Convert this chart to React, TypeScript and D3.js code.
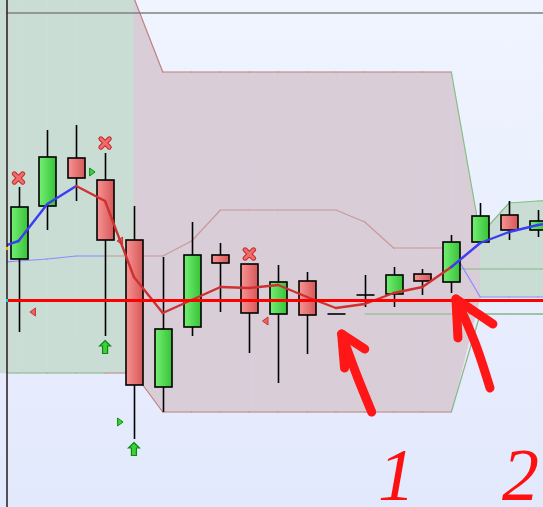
import * as d3 from 'd3';
import React, { useEffect, useRef } from 'react';

// chart values are in "points", one entry per bar
const opens  = [241, 294, 342, 320, 260, 113, 173, 245, 236, 186, 219, 186, 205, 206, 226, 218, 258, 285, 270];
const highs  = [313, 370, 375, 347, 294, 243, 278, 257, 236, 235, 228, 186, 225, 233, 231, 265, 297, 299, 290];
const lows   = [168, 270, 299, 164,  61,  88, 164, 188, 147, 117, 146, 186, 193, 193, 205, 207, 258, 260, 263];
const closes = [293, 343, 322, 260, 115, 171, 245, 237, 187, 218, 185, 186, 205, 225, 219, 258, 284, 270, 279];

// indicator lines, bar -1 .. 19
const lineIndex = d3.range(-1, 20);
const tenkan = [249, 259, 296, 314, 299, 223, 187, 200, 213, 212, 215, 203, 192, 196, 207, 213, 233, 257, 268, 275, 279];
const kijun  = [237, 239, 241, 244, 244, 244, 244, 259, 290, 290, 290, 290, 290, 278, 252, 252, 252, 203, 203, 203, 203];
const spanA  = [560, 560, 560, 560, 560, 502, 428, 428, 428, 428, 428, 428, 428, 428, 428, 428, 428, 265, 297, 299, 300];
const spanB  = [127, 127, 127, 127, 127, 127, 88, 88, 88, 88, 88, 88, 88, 88, 88, 88, 88, 186, 186, 186, 186];
// lower edge of the shaded cloud
const cloudBase = [127, 127, 127, 127, 127, 127, 88, 88, 88, 88, 88, 88, 88, 88, 88, 88, 88, 203, 203, 203, 203];
// trend flags per point (true = bullish)
const tenkanUp = [true, true, true, true, false, false, false, false, false, false, false, false, false, false, false, false, false, true, true, true, true];
const kijunUp  = [true, true, true, true, true, false, false, false, false, false, false, false, false, false, false, false, false, true, true, true, true];
const cloudUp  = [true, true, true, true, true, false, false, false, false, false, false, false, false, false, false, false, false, true, true, true, true];

// flat green levels: start bar, value
const levelStarts = [12, 15];
const levelValues = [186, 231];

const redLevel = 199.5;
const greyLevel = 487;

// signal markers (bar, value)
const crossBars = [0, 3, 8];
const crossValues = [322, 357, 246];
const upArrowBars = [3, 4];
const upArrowValues = [153, 51];
const rightTriBars = [2.55, 3.52];
const rightTriValues = [328, 78];
const leftTriBars = [0.5, 3.52, 8.56];
const leftTriValues = [188, 259, 179];

// hand drawn annotations (bar, value)
const arrowStrokes = [
  [[11.2, 166], [11.3, 132]],
  [[11.2, 166], [12.0, 151]],
  [[11.27, 160], [11.72, 125], [12.24, 88]],
  [[15.16, 201], [15.23, 162]],
  [[15.16, 201], [16.44, 176]],
  [[15.26, 195], [15.85, 155], [16.34, 112]],
];
const noteLabels = ['1', '2'];
const noteBars = [13.1, 17.4];
const noteValue = 0;

const W = 543, H = 507, LEFT = 7;

function plot(node: SVGSVGElement) {
  const svg = d3.select(node);
  svg.selectAll('*').remove();

  const x = d3.scaleLinear().domain([0, 18]).range([18.5, 537.9]);
  const y = d3.scaleLinear().domain([0, 500]).range([500, 0]);

  const defs = svg.append('defs');
  const bg = defs.append('linearGradient').attr('id', 'bg').attr('x1', 0).attr('x2', 0).attr('y1', 0).attr('y2', 1);
  bg.append('stop').attr('offset', 0).attr('stop-color', '#f0f4ff');
  bg.append('stop').attr('offset', 1).attr('stop-color', '#e2e9fc');
  const gUp = defs.append('linearGradient').attr('id', 'up');
  gUp.append('stop').attr('offset', 0).attr('stop-color', '#74ef74');
  gUp.append('stop').attr('offset', 1).attr('stop-color', '#38c238');
  const gDn = defs.append('linearGradient').attr('id', 'dn');
  gDn.append('stop').attr('offset', 0).attr('stop-color', '#f99393');
  gDn.append('stop').attr('offset', 1).attr('stop-color', '#d55858');
  defs.append('clipPath').attr('id', 'plot').append('rect')
    .attr('x', LEFT).attr('y', 0).attr('width', W - LEFT).attr('height', H);
  defs.append('filter').attr('id', 'soft').append('feGaussianBlur').attr('stdDeviation', 0.7);

  svg.append('rect').attr('width', W).attr('height', H).attr('fill', 'url(#bg)');

  // cloud, one quad per bar segment
  const cloud = svg.append('g');
  for (let k = 0; k < lineIndex.length - 1; k++) {
    const x0 = x(lineIndex[k]), x1 = x(lineIndex[k + 1]);
    cloud.append('path')
      .attr('d', `M${x0},${y(spanA[k])}L${x1},${y(spanA[k + 1])}L${x1},${y(cloudBase[k + 1])}L${x0},${y(cloudBase[k])}Z`)
      .attr('fill', cloudUp[k] ? '#c9ddd5' : '#d9cdd7')
      .attr('stroke', cloudUp[k] ? '#c9ddd5' : '#d9cdd7')
      .attr('stroke-width', 0.5);
  }

  const lines = svg.append('g').attr('clip-path', 'url(#plot)');
  const segLines = (vals: number[], flags: boolean[], upColor: string, dnColor: string, width: number) => {
    for (let k = 0; k < vals.length - 1; k++) {
      lines.append('line')
        .attr('x1', x(lineIndex[k])).attr('y1', y(vals[k]))
        .attr('x2', x(lineIndex[k + 1])).attr('y2', y(vals[k + 1]))
        .attr('stroke', flags[k + 1] ? upColor : dnColor)
        .attr('stroke-width', width)
        .attr('stroke-linecap', 'round');
    }
  };
  segLines(spanA, cloudUp, '#86c086', '#c08282', 1.2);
  segLines(spanB, cloudUp, '#86b886', '#c08282', 1.2);
  levelStarts.forEach((s, i) => {
    lines.append('line')
      .attr('x1', x(s)).attr('x2', W).attr('y1', y(levelValues[i])).attr('y2', y(levelValues[i]))
      .attr('stroke', '#86b886').attr('stroke-width', 1.2);
  });
  segLines(kijun, kijunUp, '#8c8cff', '#c89a9a', 1.2);

  // grey level
  svg.append('line').attr('x1', LEFT).attr('x2', W).attr('y1', y(greyLevel)).attr('y2', y(greyLevel))
    .attr('stroke', '#808080').attr('stroke-width', 1.5);

  // markers behind candles
  const mk = svg.append('g');
  leftTriBars.forEach((b, i) => {
    const cx = x(b), cy = y(leftTriValues[i]);
    mk.append('path').attr('d', `M${cx - 3},${cy}L${cx + 2.5},${cy - 4}L${cx + 2.5},${cy + 4}Z`)
      .attr('fill', '#f06262').attr('stroke', '#c83434').attr('stroke-width', 1);
  });
  rightTriBars.forEach((b, i) => {
    const cx = x(b), cy = y(rightTriValues[i]);
    mk.append('path').attr('d', `M${cx + 3},${cy}L${cx - 2.5},${cy - 4}L${cx - 2.5},${cy + 4}Z`)
      .attr('fill', '#3cd03c').attr('stroke', '#109010').attr('stroke-width', 1);
  });

  // candles
  const cg = svg.append('g');
  opens.forEach((o, i) => {
    const c = closes[i];
    const cx = Math.round(x(i)) + 0.5;
    if (highs[i] !== lows[i]) {
      cg.append('line').attr('x1', cx).attr('x2', cx).attr('y1', y(highs[i])).attr('y2', y(lows[i]))
        .attr('stroke', '#000').attr('stroke-width', 1.6);
    }
    if (o === c) {
      cg.append('line').attr('x1', cx - 9).attr('x2', cx + 9).attr('y1', y(o)).attr('y2', y(o))
        .attr('stroke', '#000').attr('stroke-width', 1.6);
      return;
    }
    cg.append('rect')
      .attr('x', cx - 8.5).attr('width', 17)
      .attr('y', y(Math.max(o, c))).attr('height', Math.abs(y(o) - y(c)))
      .attr('fill', c > o ? 'url(#up)' : 'url(#dn)')
      .attr('stroke', '#000').attr('stroke-width', 1.6);
  });

  // tenkan on top of candles
  const tg = svg.append('g').attr('clip-path', 'url(#plot)');
  for (let k = 0; k < tenkan.length - 1; k++) {
    tg.append('line')
      .attr('x1', x(lineIndex[k])).attr('y1', y(tenkan[k]))
      .attr('x2', x(lineIndex[k + 1])).attr('y2', y(tenkan[k + 1]))
      .attr('stroke', tenkanUp[k + 1] ? '#3c3cf4' : '#d03030')
      .attr('stroke-width', 2.4)
      .attr('stroke-linecap', 'round');
  }

  // red level
  svg.append('line').attr('x1', LEFT).attr('x2', W).attr('y1', y(redLevel)).attr('y2', y(redLevel))
    .attr('stroke', '#ff0000').attr('stroke-width', 3.2);

  const top = svg.append('g');
  crossBars.forEach((b, i) => {
    const cx = x(b), cy = y(crossValues[i]), r = 4.2;
    [['#c02c2c', 5], ['#f26a6a', 3]].forEach(([col, w]) => {
      top.append('path').attr('d', `M${cx - r},${cy - r}L${cx + r},${cy + r}M${cx + r},${cy - r}L${cx - r},${cy + r}`)
        .attr('stroke', col as string).attr('stroke-width', w as number).attr('stroke-linecap', 'round');
    });
  });
  upArrowBars.forEach((b, i) => {
    const cx = x(b), cy = y(upArrowValues[i]);
    top.append('path')
      .attr('d', `M${cx},${cy - 6.5}L${cx + 5.5},${cy - 1}L${cx + 2.5},${cy - 1}L${cx + 2.5},${cy + 6.5}L${cx - 2.5},${cy + 6.5}L${cx - 2.5},${cy - 1}L${cx - 5.5},${cy - 1}Z`)
      .attr('fill', '#3cd03c').attr('stroke', '#0c8a0c').attr('stroke-width', 1.2);
  });

  // frame line
  svg.append('line').attr('x1', LEFT).attr('x2', LEFT).attr('y1', 0).attr('y2', H)
    .attr('stroke', '#2a1818').attr('stroke-width', 1.5);
  svg.append('rect').attr('x', LEFT - 1).attr('y', y(redLevel) - 1.5).attr('width', 2).attr('height', 3).attr('fill', '#00e0e0');
  svg.append('rect').attr('x', LEFT - 1).attr('y', y(tenkan[0]) - 4).attr('width', 2).attr('height', 3).attr('fill', '#e8c000');

  // hand drawn notes
  const notes = svg.append('g').attr('filter', 'url(#soft)');
  const pen = d3.line<number[]>().x((d) => x(d[0])).y((d) => y(d[1])).curve(d3.curveCatmullRom);
  arrowStrokes.forEach((s) => {
    notes.append('path').attr('d', pen(s)).attr('fill', 'none')
      .attr('stroke', '#ff1414').attr('stroke-width', 9).attr('stroke-linecap', 'round');
  });
  noteLabels.forEach((t, i) => {
    svg.append('text').attr('x', x(noteBars[i])).attr('y', y(noteValue))
      .attr('text-anchor', 'middle')
      .attr('font-family', 'Liberation Serif, serif').attr('font-style', 'italic')
      .attr('font-size', 74).attr('fill', '#ff1010')
      .text(t);
  });
}

export default function App() {
  const ref = useRef<SVGSVGElement>(null);
  useEffect(() => {
    if (ref.current) plot(ref.current);
  }, []);
  return (
    <svg ref={ref} width={W} height={H}
      style={{ position: 'absolute', left: 0, top: 0, display: 'block' }} />
  );
}
